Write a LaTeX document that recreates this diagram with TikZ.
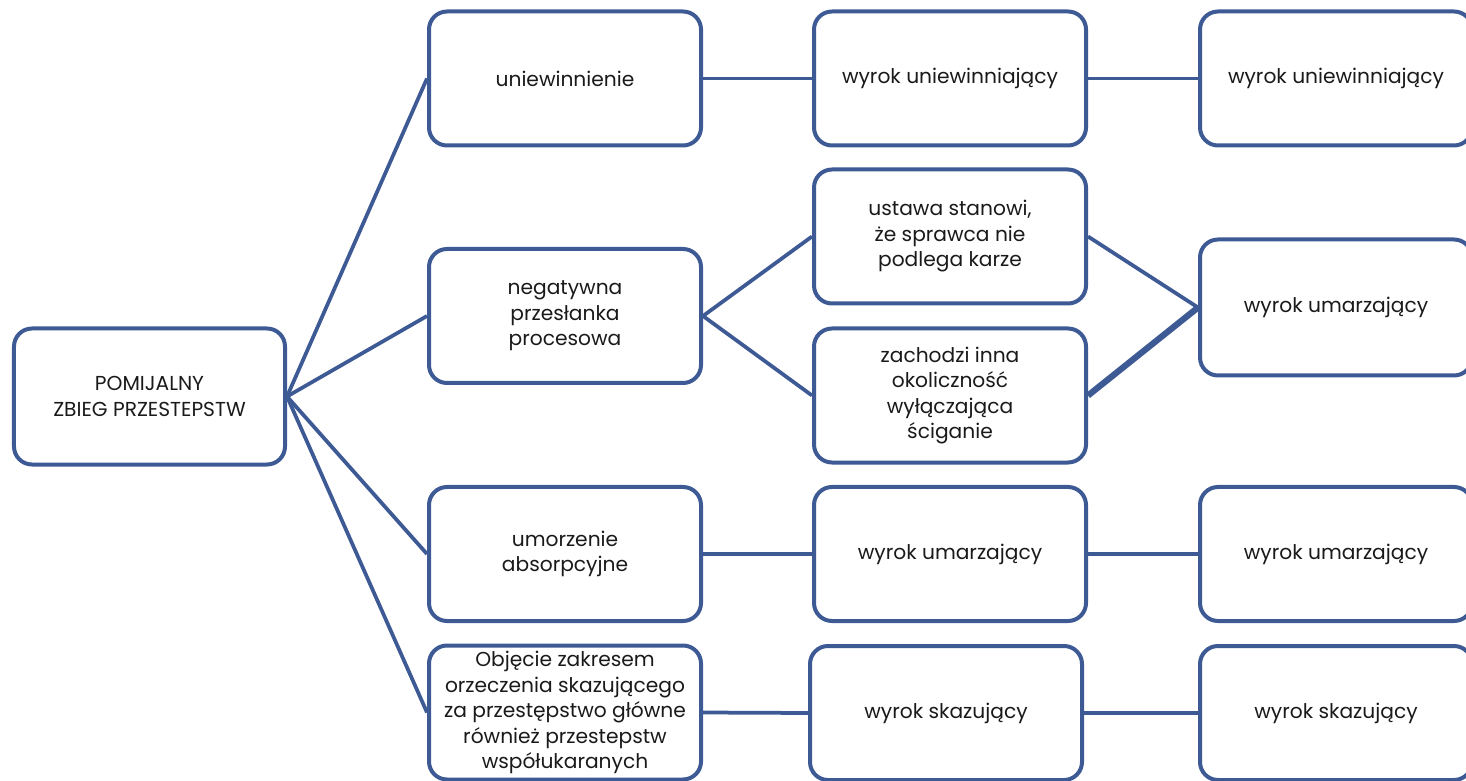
\documentclass[tikz,border=0pt]{standalone}
\usepackage{fontspec}
\setmainfont{Poppins}
\usepackage{tikz}
\usetikzlibrary{positioning}
\definecolor{boxblue}{HTML}{3D5A94}
\definecolor{textdark}{HTML}{1A1A1A}

\begin{document}
\begin{tikzpicture}[
    x=0.2mm, y=-0.2mm,
    every node/.style={font=\fontsize{11.5}{14.5}\selectfont, text=textdark},
    box/.style={
        rectangle,
        rounded corners=3.6mm,
        minimum width=54.4mm,
        minimum height=26.8mm,
        inner sep=2pt,
        draw=boxblue,
        fill=white,
        line width=0.8mm,
        align=center
    },
    link/.style={draw=boxblue, line width=0.75mm},
    thicklink/.style={draw=boxblue, line width=1.25mm}
]
    \useasboundingbox (0,0) rectangle (1466,781);

    % === ROOT ===
    \node[box, minimum width=54.2mm, minimum height=27.2mm] (root) at (149.5,396.5) {POMIJALNY\\ZBIEG PRZESTEPSTW};

    % === SECOND COLUMN ===
    \node[box] (uniew) at (565,78.5) {uniewinnienie};
    \node[box] (negat) at (565,316) {negatywna\\przesłanka\\procesowa};
    \node[box] (umorz) at (565,554) {umorzenie\\absorpcyjne};
    \node[box] (objec) at (565,712.5) {Objęcie zakresem\\orzeczenia skazującego\\za przestępstwo główne\\również przestepstw\\współukaranych};

    % === THIRD COLUMN ===
    \node[box] (wyrokU) at (950,78.5) {wyrok uniewinniający};
    \node[box] (ustawa) at (950,236.5) {ustawa stanowi,\\że sprawca nie\\podlega karze};
    \node[box] (zachodzi) at (950,395.5) {zachodzi inna\\okoliczność\\wyłączająca\\ściganie};
    \node[box] (wyrokM) at (950,554) {wyrok umarzający};
    \node[box] (wyrokS) at (946,713) {wyrok skazujący};

    % === FOURTH COLUMN (cut at the right edge) ===
    \node[box] (wyrokU2) at (1336,78.5) {wyrok uniewinniający};
    \node[box, minimum height=27.2mm] (wyrokM1) at (1336,307.5) {wyrok umarzający};
    \node[box] (wyrokM2) at (1336,554) {wyrok umarzający};
    \node[box] (wyrokS2) at (1336,713) {wyrok skazujący};

    % Connectors from the root
    \foreach \n in {uniew,negat,umorz,objec}
        \draw[link] (root.east) -- (\n.west);

    % Straight rows
    \draw[link] (uniew.east) -- (wyrokU.west);
    \draw[link] (wyrokU.east) -- (wyrokU2.west);
    \draw[link] (umorz.east) -- (wyrokM.west);
    \draw[link] (wyrokM.east) -- (wyrokM2.west);
    \draw[link] (objec.east) -- (wyrokS.west);
    \draw[link] (wyrokS.east) -- (wyrokS2.west);

    % Branch of the negative premise
    \draw[link] (negat.east) -- (ustawa.west);
    \draw[link] (negat.east) -- (zachodzi.west);
    \draw[link] (ustawa.east) -- (wyrokM1.west);
    \draw[thicklink] (zachodzi.east) -- (wyrokM1.west);
\end{tikzpicture}
\end{document}
